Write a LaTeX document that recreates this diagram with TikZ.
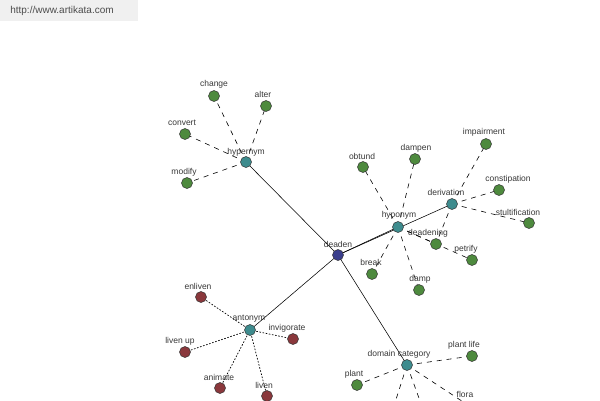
\documentclass[tikz,border=0pt]{standalone}
\usepackage{fontspec}
\setmainfont{Liberation Sans}
\begin{document}
\begin{tikzpicture}[x=1pt,y=-1pt,
  wn/.style={circle,draw=black!80,line width=0.5pt,inner sep=0pt,minimum size=11pt},
  gn/.style={wn,fill={rgb,255:red,78;green,138;blue,62}},
  tn/.style={wn,fill={rgb,255:red,62;green,140;blue,142}},
  bn/.style={wn,fill={rgb,255:red,58;green,62;blue,140}},
  rn/.style={wn,fill={rgb,255:red,138;green,56;blue,60}},
  lbl/.style={inner sep=0pt,font=\fontsize{8.5}{9}\selectfont,text=black!78},
  rel/.style={line width=0.55pt,black},
  dsh/.style={line width=0.6pt,black,dash pattern=on 5pt off 5pt},
  dot/.style={line width=0.7pt,black,dash pattern=on 1.6pt off 1.6pt}]
\useasboundingbox (0,0) rectangle (600,400);
\clip (0,0) rectangle (600,400);
\fill[white] (0,0) rectangle (600,400);
\fill[black!6] (0,0) rectangle (138,21);
\node[inner sep=0pt,font=\fontsize{10}{11}\selectfont,text=black!70] (url) at (62,11) {http://www.artikata.com};
% coordinates of nodes
\coordinate (deaden) at (338,255);
\coordinate (hypernym) at (246,162);
\coordinate (change) at (214,96);
\coordinate (alter) at (266,106);
\coordinate (convert) at (185,134);
\coordinate (modify) at (187,183);
\coordinate (hyponym) at (398,227);
\coordinate (obtund) at (363,167);
\coordinate (dampen) at (415,159);
\coordinate (break) at (372,274);
\coordinate (damp) at (419,290);
\coordinate (deadening) at (436,244);
\coordinate (petrify) at (472,260);
\coordinate (derivation) at (452,204);
\coordinate (impairment) at (486,144);
\coordinate (constipation) at (499,190);
\coordinate (stultification) at (529,223);
\coordinate (antonym) at (250,330);
\coordinate (enliven) at (201,297);
\coordinate (invigorate) at (293,339);
\coordinate (livenup) at (185,352);
\coordinate (animate) at (220,388);
\coordinate (liven) at (267,396);
\coordinate (domcat) at (407,365);
\coordinate (plantlife) at (472,356);
\coordinate (plant) at (357,385);
\coordinate (flora) at (474,409);
\coordinate (offa) at (392,412);
\coordinate (offb) at (424,412);
% solid relations
\draw[rel] (deaden) -- (hypernym);
\draw[rel] (deaden) -- (hyponym);
\draw[rel] (deaden) -- (derivation);
\draw[rel] (deaden) -- (antonym);
\draw[rel] (deaden) -- (domcat);
% dashed
\foreach \t in {change,alter,convert,modify} \draw[dsh] (hypernym) -- (\t);
\foreach \t in {obtund,dampen,break,damp,deadening,petrify} \draw[dsh] (hyponym) -- (\t);
\foreach \t in {impairment,constipation,stultification,deadening} \draw[dsh] (derivation) -- (\t);
\foreach \t in {plantlife,plant,flora,offa,offb} \draw[dsh] (domcat) -- (\t);
\foreach \t in {enliven,invigorate,livenup,animate,liven} \draw[dot] (antonym) -- (\t);
% labels
\node[lbl] (l-deaden) at (338,244) {deaden};
\node[lbl] (l-hypernym) at (246,152) {hypernym};
\node[lbl] (l-change) at (214,84) {change};
\node[lbl] (l-alter) at (263,94) {alter};
\node[lbl] (l-convert) at (182,123) {convert};
\node[lbl] (l-modify) at (184,172) {modify};
\node[lbl] (l-hyponym) at (399,215) {hyponym};
\node[lbl] (l-obtund) at (362,156) {obtund};
\node[lbl] (l-dampen) at (416,148) {dampen};
\node[lbl] (l-break) at (371,262) {break};
\node[lbl] (l-damp) at (420,279) {damp};
\node[lbl] (l-deadening) at (428,233) {deadening};
\node[lbl] (l-petrify) at (466,249) {petrify};
\node[lbl] (l-derivation) at (446,192) {derivation};
\node[lbl] (l-impairment) at (484,132) {impairment};
\node[lbl] (l-constipation) at (508,179) {constipation};
\node[lbl] (l-stultification) at (518,212) {stultification};
\node[lbl] (l-antonym) at (249,319) {antonym};
\node[lbl] (l-enliven) at (198,286) {enliven};
\node[lbl] (l-invigorate) at (287,328) {invigorate};
\node[lbl] (l-livenup) at (180,341) {liven up};
\node[lbl] (l-animate) at (219,377) {animate};
\node[lbl] (l-liven) at (264,385) {liven};
\node[lbl] (l-domcat) at (399,354) {domain category};
\node[lbl] (l-plantlife) at (464,345) {plant life};
\node[lbl] (l-plant) at (354,374) {plant};
\node[lbl] (l-flora) at (465,394) {flora};
% circles
\node[bn] (n-deaden) at (deaden) {};
\foreach \t in {hypernym,hyponym,derivation,antonym,domcat} \node[tn] (n-\t) at (\t) {};
\foreach \t in {change,alter,convert,modify,obtund,dampen,break,damp,deadening,petrify,impairment,constipation,stultification,plantlife,plant,flora} \node[gn] (n-\t) at (\t) {};
\foreach \t in {enliven,invigorate,livenup,animate,liven} \node[rn] (n-\t) at (\t) {};
\end{tikzpicture}
\end{document}
